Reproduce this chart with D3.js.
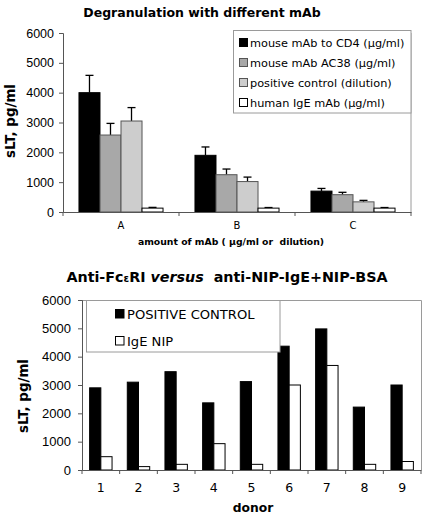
<!DOCTYPE html>
<html><head><meta charset="utf-8">
<script src="https://cdn.jsdelivr.net/npm/d3@7"></script>
<style>body{margin:0;background:#fff}svg{display:block}</style>
</head><body><svg id="c" width="429" height="517"></svg>
<script>
// ---- data: top chart ----
const topCategories = ["A", "B", "C"];
const topSeries = ["mouse mAb to CD4 (μg/ml)", "mouse mAb AC38 (μg/ml)", "positive control (dilution)", "human IgE mAb (μg/ml)"];
const cd4Values = [4000, 1900, 700];
const cd4Errors = [580, 280, 90];
const ac38Values = [2580, 1250, 580];
const ac38Errors = [390, 190, 80];
const posCtrlValues = [3050, 1020, 340];
const posCtrlErrors = [450, 150, 50];
const igeValues = [130, 130, 130];
const igeErrors = [25, 20, 20];
const yTicks = [0, 1000, 2000, 3000, 4000, 5000, 6000];

// ---- data: bottom chart ----
const donors = ["1", "2", "3", "4", "5", "6", "7", "8", "9"];
const bottomSeries = ["POSITIVE CONTROL", "IgE NIP"];
const positiveControl = [2900, 3100, 3470, 2370, 3120, 4370, 4980, 2220, 3000];
const igeNip = [470, 120, 200, 930, 200, 3000, 3690, 200, 300];

const svg = d3.select("#c");
const sans = "'DejaVu Sans', Verdana, sans-serif";
const arial = "'Liberation Sans', Arial, sans-serif";

// ================= TOP CHART =================
(function(){
  const fills = ["#000000", "#a8a8a8", "#cdcdcd", "#ffffff"];
  const strokes = ["#000000", "#555555", "#555555", "#000000"];
  const vals = [cd4Values, ac38Values, posCtrlValues, igeValues];
  const errs = [cd4Errors, ac38Errors, posCtrlErrors, igeErrors];
  const x = d3.scaleBand().domain(topCategories).range([63, 411]).paddingInner(0).paddingOuter(0);
  const xs = d3.scaleBand().domain(d3.range(4)).range([0, x.bandwidth()]).paddingInner(0).paddingOuter(0.76);
  const y = d3.scaleLinear().domain([0, 6000]).range([212, 33]);
  const g = svg.append("g");

  // plot right border
  g.append("line").attr("x1", 411).attr("x2", 411).attr("y1", y(6000)).attr("y2", y(0))
    .attr("stroke", "#9a9a9a").attr("stroke-width", 1);

  // bars
  topCategories.forEach((c, ci) => {
    vals.forEach((arr, si) => {
      const bx = x(c) + xs(si), bw = xs.bandwidth();
      const cx = bx + bw / 2;
      g.append("line").attr("x1", cx).attr("x2", cx).attr("y1", y(arr[ci])).attr("y2", y(arr[ci] + errs[si][ci]))
        .attr("stroke", "#000").attr("stroke-width", 1.3);
      g.append("line").attr("x1", cx - 4).attr("x2", cx + 4).attr("y1", y(arr[ci] + errs[si][ci])).attr("y2", y(arr[ci] + errs[si][ci]))
        .attr("stroke", "#000").attr("stroke-width", 1.3);
      g.append("rect").attr("x", bx).attr("y", y(arr[ci])).attr("width", bw).attr("height", y(0) - y(arr[ci]))
        .attr("fill", fills[si]).attr("stroke", strokes[si]).attr("stroke-width", 1);
    });
  });

  // y axis
  const ya = d3.axisLeft(y).tickValues(yTicks).tickSize(4).tickPadding(5).tickFormat(d3.format("d"));
  const yg = g.append("g").attr("transform", "translate(63,0)").call(ya);
  yg.selectAll("text").attr("font-family", arial).attr("font-size", 12.5).attr("fill", "#000");
  yg.selectAll("line, path").attr("stroke", "#555");

  // x axis
  const xa = d3.axisBottom(x).tickSize(0).tickPadding(10);
  const xg = g.append("g").attr("transform", "translate(0,212)").call(xa);
  xg.select(".domain").attr("stroke", "#555");
  xg.selectAll("text").attr("font-family", sans).attr("font-size", 10).attr("fill", "#000");
  [63, 411].concat(topCategories.slice(1).map(c => x(c))).forEach(px => {
    g.append("line").attr("x1", px).attr("x2", px).attr("y1", 212).attr("y2", 216).attr("stroke", "#555");
  });

  // titles
  g.append("text").attr("x", 202).attr("y", 17).attr("text-anchor", "middle")
    .attr("font-family", sans).attr("font-weight", "bold").attr("font-size", 12.5).text("Degranulation with different mAb");
  g.append("text").attr("transform", "translate(15,121) rotate(-90)").attr("text-anchor", "middle")
    .attr("font-family", sans).attr("font-weight", "bold").attr("font-size", 13.4).text("sLT, pg/ml");
  g.append("text").attr("x", 231).attr("y", 244.5).attr("text-anchor", "middle")
    .attr("font-family", sans).attr("font-weight", "bold").attr("font-size", 9.3).attr("xml:space", "preserve")
    .text("amount of mAb ( μg/ml or  dilution)");

  // legend
  g.append("rect").attr("x", 233.5).attr("y", 30.5).attr("width", 177.5).attr("height", 82.5)
    .attr("fill", "#fff").attr("stroke", "#9a9a9a");
  topSeries.forEach((s, i) => {
    const cy = 43 + i * 20;
    g.append("rect").attr("x", 239.5).attr("y", cy - 4.5).attr("width", 8).attr("height", 8)
      .attr("fill", fills[i]).attr("stroke", strokes[i]);
    g.append("text").attr("x", 250).attr("y", cy + 4).attr("font-family", sans).attr("font-size", 11.3).text(s);
  });
})();

// ================= BOTTOM CHART =================
(function(){
  const fills = ["#000000", "#ffffff"];
  const vals = [positiveControl, igeNip];
  const x = d3.scaleBand().domain(donors).range([82, 421]).paddingInner(0).paddingOuter(0);
  const xs = d3.scaleBand().domain(d3.range(2)).range([0, x.bandwidth()]).paddingInner(0).paddingOuter(0.68);
  const y = d3.scaleLinear().domain([0, 6000]).range([470, 300]);
  const g = svg.append("g");

  g.append("path").attr("d", `M82,300.5H421.5V470`).attr("fill", "none").attr("stroke", "#9a9a9a");

  donors.forEach((d, di) => {
    vals.forEach((arr, si) => {
      g.append("rect").attr("x", x(d) + xs(si)).attr("y", y(arr[di])).attr("width", xs.bandwidth())
        .attr("height", y(0) - y(arr[di])).attr("fill", fills[si]).attr("stroke", "#000").attr("stroke-width", 1);
    });
  });

  const ya = d3.axisLeft(y).tickValues(yTicks).tickSize(4).tickPadding(7).tickFormat(d3.format("d"));
  const yg = g.append("g").attr("transform", "translate(82,0)").call(ya);
  yg.selectAll("text").attr("font-family", arial).attr("font-size", 13).attr("fill", "#000");
  yg.selectAll("line, path").attr("stroke", "#555");

  const xa = d3.axisBottom(x).tickSize(0).tickPadding(13);
  const xg = g.append("g").attr("transform", "translate(0,470)").call(xa);
  xg.select(".domain").attr("stroke", "#555");
  xg.selectAll("text").attr("font-family", sans).attr("font-size", 12.5).attr("fill", "#000");
  donors.map(d => x(d)).concat([421]).forEach(px => {
    g.append("line").attr("x1", px).attr("x2", px).attr("y1", 470).attr("y2", 474).attr("stroke", "#555");
  });

  const t = g.append("text").attr("x", 227).attr("y", 282).attr("text-anchor", "middle")
    .attr("font-family", sans).attr("font-weight", "bold").attr("font-size", 14.3).attr("xml:space", "preserve");
  t.append("tspan").text("Anti-Fc");
  t.append("tspan").attr("font-size", 10).text("ε");
  t.append("tspan").text("RI ");
  t.append("tspan").attr("font-style", "italic").text("versus");
  t.append("tspan").text("  anti-NIP-IgE+NIP-BSA");

  g.append("text").attr("transform", "translate(28,396) rotate(-90)").attr("text-anchor", "middle")
    .attr("font-family", sans).attr("font-weight", "bold").attr("font-size", 13.4).text("sLT, pg/ml");
  g.append("text").attr("x", 253).attr("y", 512).attr("text-anchor", "middle")
    .attr("font-family", sans).attr("font-weight", "bold").attr("font-size", 12.3).text("donor");

  g.append("rect").attr("x", 86.5).attr("y", 300.5).attr("width", 193.5).attr("height", 51.5)
    .attr("fill", "#fff").attr("stroke", "#9a9a9a");
  bottomSeries.forEach((s, i) => {
    const cy = 314 + i * 27;
    g.append("rect").attr("x", 115.5).attr("y", cy - 4.5).attr("width", 8.5).attr("height", 8.5)
      .attr("fill", fills[i]).attr("stroke", "#000");
    g.append("text").attr("x", 127).attr("y", cy + 4.5).attr("font-family", sans).attr("font-size", 13.1).text(s);
  });
})();
</script>
</body></html>
